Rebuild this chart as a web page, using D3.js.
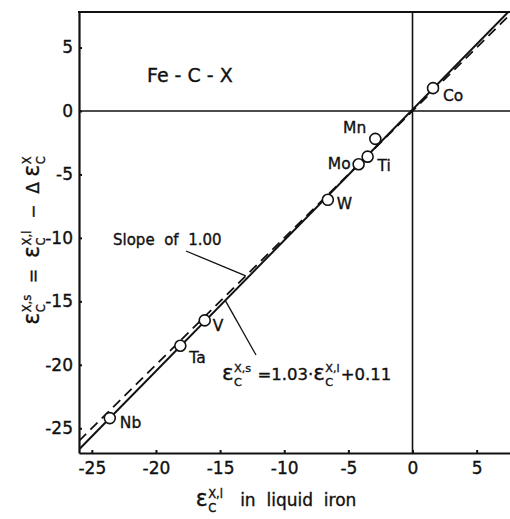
<!DOCTYPE html>
<html>
<head>
<meta charset="utf-8">
<script src="https://cdn.jsdelivr.net/npm/d3@7"></script>
<style>
  body { margin: 0; background: #fff; }
  svg { display: block; font-family: "DejaVu Sans", sans-serif; }
  text { fill: #111; stroke: #111; stroke-width: 0.35px; white-space: pre; }
</style>
</head>
<body>
<div id="chart"></div>
<script>
// data
const elements = ["Co", "Mn", "Ti", "Mo", "W", "V", "Ta", "Nb"];
const epsLiquid = [1.6, -2.9, -3.5, -4.2, -6.6, -16.2, -18.1, -23.6];
const epsSolid = [1.8, -2.2, -3.6, -4.2, -7.0, -16.5, -18.5, -24.2];
const xTicks = [-25, -20, -15, -10, -5, 0, 5];
const yTicks = [-25, -20, -15, -10, -5, 0, 5];
const fitSlope = 1.03, fitIntercept = 0.11;
const refSlope = 1.00;

const width = 510, height = 519;
const margin = { top: 12, right: 0, bottom: 66, left: 79 };

// label placement next to each circle (px)
const labelOffset = {
  Co: [10, 8, "start"], Mn: [-9, -11, "end"], Ti: [10, 9, "start"], Mo: [-8, 0, "end"],
  W: [9, 4, "start"], V: [8, 6, "start"], Ta: [9, 12, "start"], Nb: [10, 5, "start"]
};

const x = d3.scaleLinear().domain([-26, 7.6]).range([margin.left, width - margin.right]);
const y = d3.scaleLinear().domain([-26.95, 7.8]).range([height - margin.bottom, margin.top]);

const svg = d3.select("#chart").append("svg")
  .attr("width", width).attr("height", height);

svg.append("defs").append("clipPath").attr("id", "plot")
  .append("rect")
  .attr("x", margin.left).attr("y", margin.top)
  .attr("width", width - margin.left - margin.right)
  .attr("height", height - margin.top - margin.bottom);

// zero lines
svg.append("line")
  .attr("x1", x(0)).attr("x2", x(0)).attr("y1", y.range()[1]).attr("y2", y.range()[0])
  .attr("stroke", "#111").attr("stroke-width", 1.6);
svg.append("line")
  .attr("x1", x.range()[0]).attr("x2", x.range()[1]).attr("y1", y(0)).attr("y2", y(0))
  .attr("stroke", "#111").attr("stroke-width", 1.6);

// axes
const xAxis = svg.append("g")
  .attr("transform", "translate(0," + y.range()[0] + ")")
  .call(d3.axisBottom(x).tickValues(xTicks).tickSizeInner(-3).tickSizeOuter(0).tickPadding(9).tickFormat(d => String(d)));
const yAxis = svg.append("g")
  .attr("transform", "translate(" + x.range()[0] + ",0)")
  .call(d3.axisLeft(y).tickValues(yTicks).tickSizeInner(-3).tickSizeOuter(0).tickPadding(6).tickFormat(d => String(d)));
[xAxis, yAxis].forEach(a => {
  a.select(".domain").attr("stroke", "#111").attr("stroke-width", 2.2);
  a.selectAll(".tick line").attr("stroke", "#111").attr("stroke-width", 2);
  a.selectAll(".tick text").attr("font-size", 17).attr("fill", "#111")
    .attr("font-family", "DejaVu Sans, sans-serif");
});
// top frame
svg.append("line")
  .attr("x1", x.range()[0] - 1).attr("x2", x.range()[1]).attr("y1", y.range()[1]).attr("y2", y.range()[1])
  .attr("stroke", "#111").attr("stroke-width", 2.2);

// lines
const xs = x.domain();
const plot = svg.append("g").attr("clip-path", "url(#plot)");
plot.append("path")
  .datum(xs.map(v => [v, refSlope * v]))
  .attr("d", d3.line().x(d => x(d[0])).y(d => y(d[1])))
  .attr("fill", "none").attr("stroke", "#111").attr("stroke-width", 1.8)
  .attr("stroke-dasharray", "10,6");
plot.append("path")
  .datum(xs.map(v => [v, fitSlope * v + fitIntercept]))
  .attr("d", d3.line().x(d => x(d[0])).y(d => y(d[1])))
  .attr("fill", "none").attr("stroke", "#111").attr("stroke-width", 2);

// points
const pts = elements.map((e, i) => ({ name: e, l: epsLiquid[i], s: epsSolid[i] }));
svg.append("g").selectAll("circle").data(pts).join("circle")
  .attr("cx", d => x(d.l)).attr("cy", d => y(d.s)).attr("r", 5.5)
  .attr("fill", "#fff").attr("stroke", "#111").attr("stroke-width", 1.6);
svg.append("g").selectAll("text").data(pts).join("text")
  .attr("x", d => x(d.l) + labelOffset[d.name][0])
  .attr("y", d => y(d.s) + labelOffset[d.name][1])
  .attr("text-anchor", d => labelOffset[d.name][2])
  .attr("dominant-baseline", "central")
  .attr("font-size", 15.5)
  .text(d => d.name);

// rich text helper: epsilon with stacked sub/superscripts
function rich(g, parts, size) {
  let cx = 0;
  parts.forEach(p => {
    if (typeof p === "string") {
      const t = g.append("text").attr("x", cx).attr("y", 0).attr("font-size", size).text(p);
      cx += t.node().getComputedTextLength();
    } else {
      const t = g.append("text").attr("x", cx).attr("y", 0).attr("font-size", size * 1.3).text(p.t);
      cx += t.node().getComputedTextLength() + 0.5;
      const s = size * 0.68;
      const sub = g.append("text").attr("x", cx).attr("y", size * 0.34).attr("font-size", s).text(p.sub);
      const sup = g.append("text").attr("x", cx).attr("y", -size * 0.5).attr("font-size", s).text(p.sup);
      cx += Math.max(sub.node().getComputedTextLength(), sup.node().getComputedTextLength()) + 1;
    }
  });
  return cx;
}

// title
svg.append("text").attr("x", 147).attr("y", 82).attr("font-size", 19).text("Fe - C - X");

// slope annotation
svg.append("text").attr("x", 113).attr("y", 245).attr("font-size", 15).text("Slope  of  1.00");
svg.append("line").attr("x1", 186).attr("y1", 251).attr("x2", x(-13.0)).attr("y2", y(refSlope * -13.0))
  .attr("stroke", "#111").attr("stroke-width", 1.3);

// fit annotation
const eq = svg.append("g").attr("transform", "translate(222,380)");
rich(eq, [{ t: "ε", sub: "C", sup: "X,s" }, " =1.03·", { t: "ε", sub: "C", sup: "X,l" }, "+0.11"], 16.5);
svg.append("line").attr("x1", 256).attr("y1", 355).attr("x2", x(-14.6)).attr("y2", y(fitSlope * -14.6 + fitIntercept))
  .attr("stroke", "#111").attr("stroke-width", 1.3);

// x axis title
const xt = svg.append("g");
const xw = rich(xt, [{ t: "ε", sub: "C", sup: "X,l" }, "   in  liquid  iron"], 17);
xt.attr("transform", "translate(" + (276 - xw / 2) + ",506)");

// y axis title
const yt = svg.append("g");
const yw = rich(yt, [{ t: "ε", sub: "C", sup: "X,s" }, "  =  ", { t: "ε", sub: "C", sup: "X,l" }, "  −  Δ ", { t: "ε", sub: "C", sup: "X" }], 17);
yt.attr("transform", "translate(39," + (240 + yw / 2) + ") rotate(-90)");
</script>
</body>
</html>
